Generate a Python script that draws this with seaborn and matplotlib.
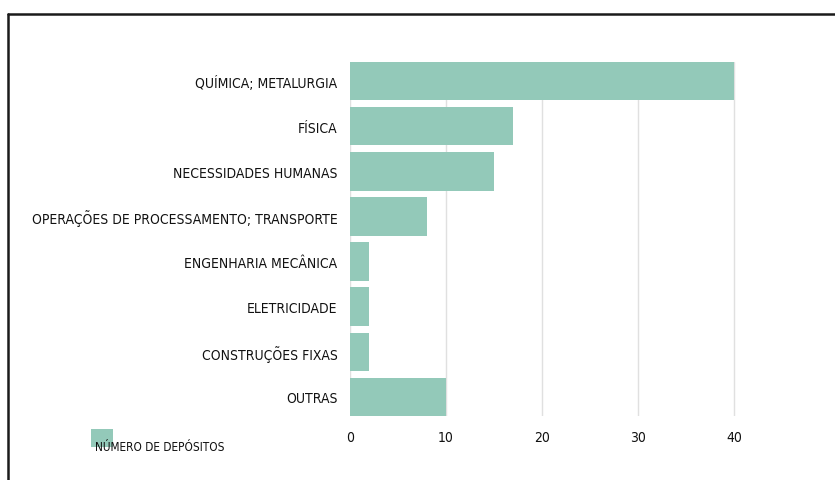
import matplotlib.pyplot as plt
import matplotlib.patches as mpatches
from matplotlib import font_manager
import seaborn as sns
import pandas as pd

# data
categorias = ["QUÍMICA; METALURGIA", "FÍSICA", "NECESSIDADES HUMANAS",
              "OPERAÇÕES DE PROCESSAMENTO; TRANSPORTE", "ENGENHARIA MECÂNICA",
              "ELETRICIDADE", "CONSTRUÇÕES FIXAS", "OUTRAS"]
depositos = [40, 17, 15, 8, 2, 2, 2, 10]
xticks = [0, 10, 20, 30, 40]
serie = "NÚMERO DE DEPÓSITOS"

cor = "#93c9b9"

sns.set_theme(style="white")

# look for a condensed face, the reference uses a narrow display font
fp = None
for f in font_manager.fontManager.ttflist:
    nm = (f.name + " " + f.fname).lower()
    if ("condensed" in nm or "narrow" in nm or str(f.stretch) in ("condensed", "semi-condensed", "extra-condensed")) \
            and "bold" not in nm and "italic" not in nm and "oblique" not in nm:
        fp = font_manager.FontProperties(fname=f.fname)
        break
if fp is None:
    fp = font_manager.FontProperties(family="DejaVu Sans")
    lsize = 8.6
else:
    lsize = 10
plt.rcParams["font.family"] = ["DejaVu Sans"]

df = pd.DataFrame({"categoria": categorias, "n": depositos})

W, H = 835, 481
xmax = 40.4
fig = plt.figure(figsize=(W / 100, H / 100), dpi=100)
# axes: x=0 at 350px, x=40 at 734px, y 63..417 (pixels)
ax = fig.add_axes([350 / W, 1 - 417 / H, (734 - 350) * xmax / 40 / W, (417 - 63) / H])

sns.barplot(data=df, y="categoria", x="n", color=cor, saturation=1,
            width=0.85, linewidth=0, ax=ax, zorder=2)

ax.set_xlim(0, xmax)
ax.set_ylim(len(categorias) - 1 + 0.425, -0.425)
ax.set_xticks(xticks)
ax.set_xticklabels([str(t) for t in xticks])
ax.xaxis.grid(True, color="#e0e0e0", linewidth=1, zorder=0)
ax.set_axisbelow(True)
for s in ax.spines.values():
    s.set_visible(False)
ax.set_xlabel("")
ax.set_ylabel("")
ax.tick_params(axis="y", length=0, pad=9, labelcolor="#111111")
ax.tick_params(axis="x", length=0, pad=10, labelcolor="#111111")
for t in ax.get_yticklabels() + ax.get_xticklabels():
    t.set_fontproperties(fp)
    t.set_fontsize(lsize)

# legend: swatch with label overlapping it
fig.add_artist(mpatches.Rectangle((91 / W, 1 - 448 / H), 22 / W, 18 / H,
                                  transform=fig.transFigure, color=cor, lw=0))
fig.text(95 / W, 1 - 451 / H, serie, fontproperties=fp, fontsize=lsize - 1.5,
         color="#111111", ha="left", va="baseline")

# frame lines at top and left
fig.add_artist(plt.Line2D([8 / W, 1], [1 - 15 / H, 1 - 15 / H],
                          transform=fig.transFigure, color="#1a1a1a", lw=1.8))
fig.add_artist(plt.Line2D([8 / W, 8 / W], [1 - 15 / H, 0],
                          transform=fig.transFigure, color="#1a1a1a", lw=1.8))

fig.savefig("out.png", dpi=100)
